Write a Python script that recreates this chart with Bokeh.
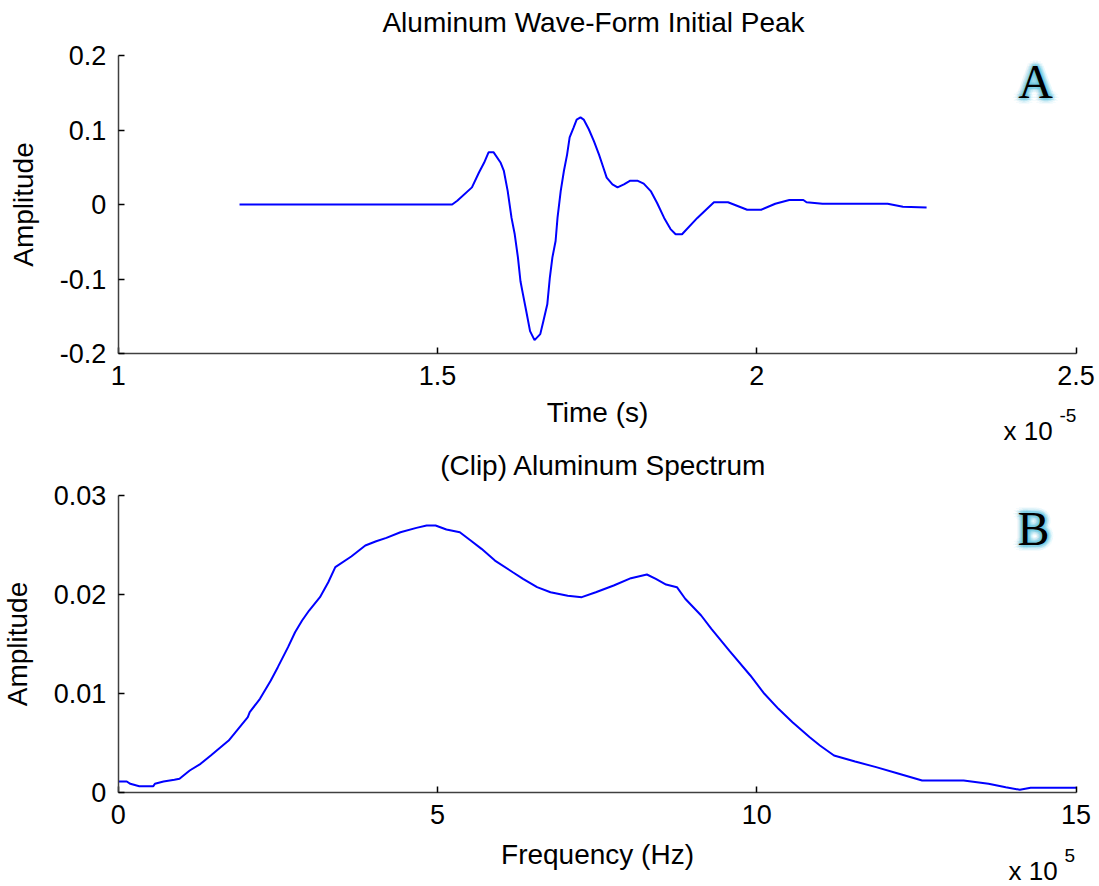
import math
from bokeh.plotting import figure
from bokeh.layouts import column
from bokeh.models import Range1d, FixedTicker, Label
from bokeh.embed import file_html
from bokeh.resources import INLINE

# ---------------- data: panel A (time in units of 1e-5 s) ----------------
time_x1e5 = [1.19, 1.523, 1.531, 1.554, 1.565, 1.573, 1.580, 1.588, 1.599, 1.604,
             1.610, 1.616, 1.621, 1.626, 1.630, 1.634, 1.639, 1.645, 1.652, 1.661,
             1.666, 1.672, 1.676, 1.680, 1.685, 1.688, 1.693, 1.698, 1.703, 1.707,
             1.713, 1.718, 1.724, 1.729, 1.737, 1.745, 1.753, 1.760, 1.765, 1.774,
             1.782, 1.792, 1.802, 1.813, 1.823, 1.834, 1.844, 1.855, 1.865, 1.873,
             1.883, 1.907, 1.933, 1.955, 1.976, 1.985, 2.007, 2.029, 2.051, 2.073,
             2.078, 2.103, 2.205, 2.229, 2.266]
wave_amp = [0.0, 0.0, 0.005, 0.023, 0.043, 0.056, 0.070, 0.070, 0.056, 0.045,
            0.018, -0.018, -0.040, -0.071, -0.103, -0.121, -0.143, -0.170, -0.182, -0.174,
            -0.156, -0.134, -0.098, -0.071, -0.049, -0.018, 0.018, 0.045, 0.067, 0.090,
            0.103, 0.114, 0.117, 0.114, 0.101, 0.085, 0.067, 0.049, 0.036, 0.027,
            0.023, 0.027, 0.032, 0.032, 0.028, 0.018, 0.002, -0.018, -0.033, -0.040,
            -0.040, -0.018, 0.003, 0.003, -0.004, -0.007, -0.007, 0.001, 0.006, 0.006,
            0.003, 0.001, 0.001, -0.003, -0.004]

# ---------------- data: panel B (frequency in units of 1e5 Hz) ----------------
freq_x1e5 = [0.0, 0.135, 0.19, 0.33, 0.55, 0.575, 0.71, 0.88, 0.96, 1.12,
             1.29, 1.45, 1.73, 2.03, 2.06, 2.22, 2.39, 2.50, 2.66, 2.77,
             2.88, 2.99, 3.16, 3.29, 3.40, 3.65, 3.87, 4.04, 4.20, 4.42,
             4.67, 4.83, 4.97, 5.14, 5.35, 5.52, 5.69, 5.90, 6.18, 6.34,
             6.56, 6.77, 7.04, 7.26, 7.48, 7.76, 8.03, 8.28, 8.42, 8.58,
             8.75, 8.88, 9.13, 9.29, 9.57, 9.90, 10.12, 10.34, 10.56, 10.83,
             10.99, 11.21, 11.54, 11.87, 12.20, 12.59, 13.24, 13.63, 13.90, 14.12,
             14.29, 15.0]
spec_amp = [0.00111, 0.00111, 0.00088, 0.00064, 0.00064, 0.00088, 0.00111, 0.00128, 0.00138, 0.00222,
            0.00290, 0.00374, 0.00525, 0.00761, 0.00811, 0.00946, 0.01131, 0.01266, 0.01468, 0.01619,
            0.01737, 0.01838, 0.01973, 0.02124, 0.02276, 0.02384, 0.02495, 0.02538, 0.02572, 0.02629,
            0.02673, 0.02697, 0.02697, 0.02657, 0.02629, 0.02545, 0.02461, 0.02343, 0.02225, 0.02158,
            0.02074, 0.02023, 0.01987, 0.01973, 0.02023, 0.02091, 0.02165, 0.02202, 0.02158, 0.02101,
            0.02074, 0.01957, 0.01788, 0.01653, 0.01434, 0.01182, 0.00997, 0.00845, 0.00710, 0.00559,
            0.00475, 0.00374, 0.00313, 0.00256, 0.00195, 0.00121, 0.00121, 0.00088, 0.00054, 0.00027,
            0.00047, 0.00047]

# tick definitions
a_xticks = [1, 1.5, 2, 2.5]
a_xlabels = ["1", "1.5", "2", "2.5"]
a_yticks = [-0.2, -0.1, 0, 0.1, 0.2]
a_ylabels = ["-0.2", "-0.1", "0", "0.1", "0.2"]
b_xticks = [0, 5, 10, 15]
b_xlabels = ["0", "5", "10", "15"]
b_yticks = [0, 0.01, 0.02, 0.03]
b_ylabels = ["0", "0.01", "0.02", "0.03"]

FONT = "Liberation Sans"
TICK_PX = "27px"
LABEL_PX = "28px"
AXIS_COLOR = "#404040"

W = 1099
HA, HB = 446, 440             # canvas heights of the two panels
AX_L, AX_R = 117.7, 1075.5    # pixel x of the axes box (both panels)


class Panel:
    """Maps picture pixels of one panel to its data values (frame fills the canvas)."""
    def __init__(self, xlo, xhi, ylo, yhi, top_px, bot_px, h, y0):
        self.xlo, self.xhi, self.ylo, self.yhi = xlo, xhi, ylo, yhi
        self.top_px, self.bot_px, self.h, self.y0 = top_px, bot_px, h, y0
        self.kx = (xhi - xlo) / (AX_R - AX_L)
        self.ky = (yhi - ylo) / (bot_px - top_px)

    def x(self, px):
        return self.xlo + (px - AX_L) * self.kx

    def y(self, gpy):  # gpy: pixel y in the whole picture
        return self.yhi - (gpy - self.top_px) * self.ky

    def make(self):
        p = figure(width=W, height=self.h, output_backend="svg", toolbar_location=None,
                   x_range=Range1d(self.x(0), self.x(W)),
                   y_range=Range1d(self.y(self.y0 + self.h), self.y(self.y0)),
                   min_border=0)
        p.outline_line_color = None
        p.xgrid.visible = False
        p.ygrid.visible = False
        return p


def style_axes(p, pan, xt, xl, yt, yl, xlab, ylab, xlab_standoff, ylab_standoff):
    xa, ya = p.xaxis[0], p.yaxis[0]
    xa.fixed_location = pan.ylo
    ya.fixed_location = pan.xlo
    xa.bounds = (pan.xlo, pan.xhi)
    ya.bounds = (pan.ylo, pan.yhi)
    xa.axis_label = xlab
    ya.axis_label = ylab
    for ax in (xa, ya):
        ax.axis_line_color = AXIS_COLOR
        ax.axis_line_width = 1.5
        ax.major_tick_in = 6
        ax.major_tick_out = 0
        ax.major_tick_line_color = "black"
        ax.major_tick_line_width = 1.5
        ax.minor_tick_line_color = None
        ax.major_label_text_font = FONT
        ax.major_label_text_font_size = TICK_PX
        ax.major_label_text_color = "black"
        ax.axis_label_text_font = FONT
        ax.axis_label_text_font_size = LABEL_PX
        ax.axis_label_text_font_style = "normal"
        ax.axis_label_text_color = "black"
        ax.major_label_standoff = 12
    xa.ticker = FixedTicker(ticks=xt)
    xa.major_label_overrides = {t: s for t, s in zip(xt, xl)}
    ya.ticker = FixedTicker(ticks=yt)
    ya.major_label_overrides = {t: s for t, s in zip(yt, yl)}
    xa.axis_label_standoff = xlab_standoff
    ya.axis_label_standoff = ylab_standoff


def text(p, x, y, s, size, align="left", font=FONT, color="black", alpha=1.0,
         xo=0, yo=0):
    p.add_layout(Label(x=x, y=y, text=s, text_font=font, text_font_size=size,
                       text_align=align, text_baseline="middle", text_color=color,
                       text_alpha=alpha, x_offset=xo, y_offset=yo))


def glow_letter(p, letter, cx, cy):
    n = 12
    for r, a in ((6, 0.08), (4, 0.12), (2, 0.18)):
        for k in range(n):
            ang = 2 * math.pi * k / n
            text(p, cx, cy, letter, "48px", align="center", font="Liberation Serif",
                 color="#5cc4e0", alpha=a, xo=r * math.cos(ang), yo=r * math.sin(ang))
    text(p, cx, cy, letter, "48px", align="center", font="Liberation Serif")


# ---------------- panel A ----------------
PA = Panel(1, 2.5, -0.2, 0.2, 55, 353, HA, 0)
pa = PA.make()
pa.line(time_x1e5, wave_amp, line_color="#0000ff", line_width=2)
style_axes(pa, PA, a_xticks, a_xlabels, a_yticks, a_ylabels, "Time (s)", "Amplitude", 9, 18)
text(pa, PA.x(593), PA.y(22), "Aluminum Wave-Form Initial Peak", LABEL_PX, align="center")
text(pa, PA.x(1003), PA.y(430), "x 10", "26px")
text(pa, PA.x(1059), PA.y(415), "-5", "19px")
glow_letter(pa, "A", PA.x(1035), PA.y(81))

# ---------------- panel B ----------------
PB = Panel(0, 15, 0, 0.03, 495, 792, HB, HA)
pb = PB.make()
pb.line(freq_x1e5, spec_amp, line_color="#0000ff", line_width=2)
style_axes(pb, PB, b_xticks, b_xlabels, b_yticks, b_ylabels, "Frequency (Hz)", "Amplitude", 12, 18)
text(pb, PB.x(603), PB.y(465), "(Clip) Aluminum Spectrum", LABEL_PX, align="center")
text(pb, PB.x(1008), PB.y(870), "x 10", "26px")
text(pb, PB.x(1064), PB.y(855), "5", "19px")
glow_letter(pb, "B", PB.x(1033), PB.y(528))

layout = column(pa, pb, spacing=0)
open("out.html", "w").write(file_html(layout, INLINE))
